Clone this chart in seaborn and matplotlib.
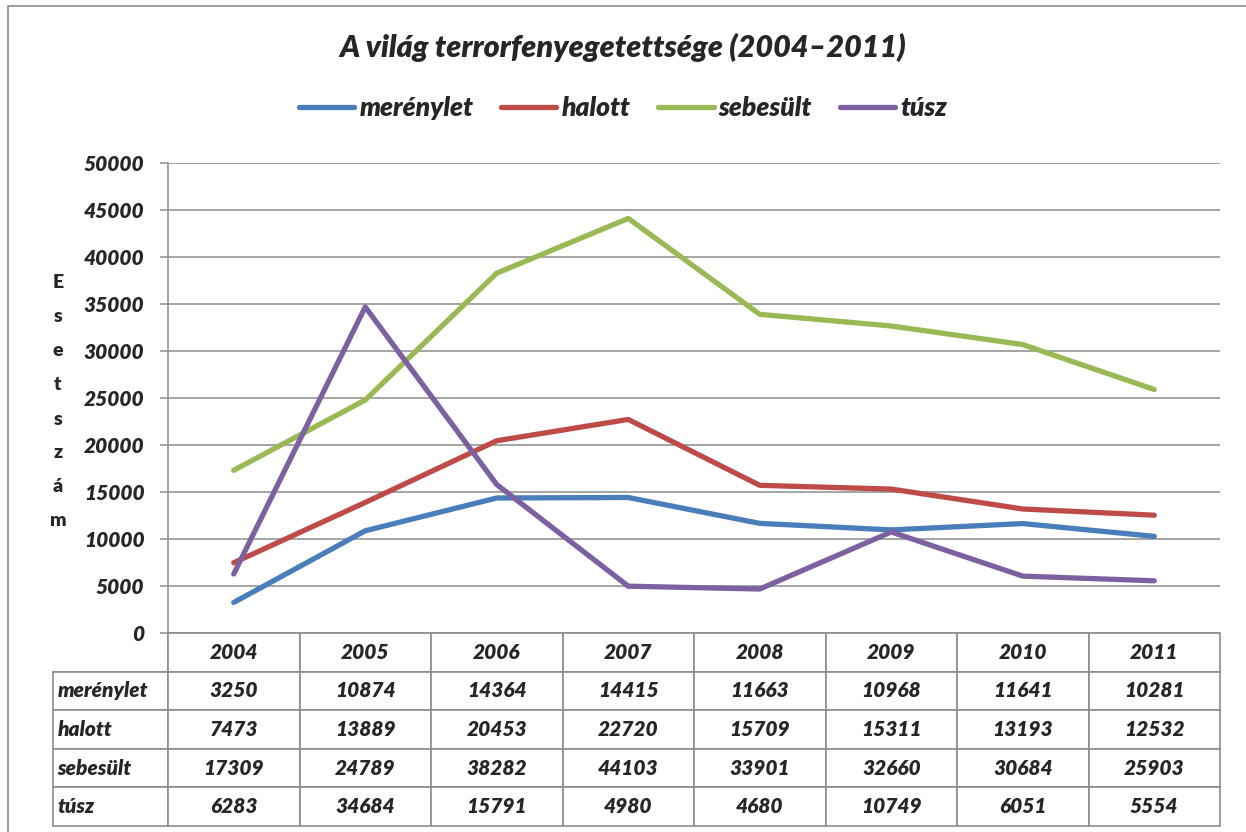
import numpy as np
import pandas as pd
import matplotlib
matplotlib.use("Agg")
import matplotlib.pyplot as plt
from matplotlib.patches import Rectangle
import seaborn as sns

years = ["2004", "2005", "2006", "2007", "2008", "2009", "2010", "2011"]
series_names = ["merénylet", "halott", "sebesült", "túsz"]
merenylet = [3250, 10874, 14364, 14415, 11663, 10968, 11641, 10281]
halott = [7473, 13889, 20453, 22720, 15709, 15311, 13193, 12532]
sebesult = [17309, 24789, 38282, 44103, 33901, 32660, 30684, 25903]
tusz = [6283, 34684, 15791, 4980, 4680, 10749, 6051, 5554]
colors = ["#4A7EBB", "#BE4B48", "#98B954", "#7D60A0"]
yticks = [0, 5000, 10000, 15000, 20000, 25000, 30000, 35000, 40000, 45000, 50000]
title = "A világ terrorfenyegetettsége (2004–2011)"
ylabel = "Esetszám"

sns.set_style("white")
plt.rcParams['font.family'] = ['Lato', 'DejaVu Sans']
WEIGHT = "heavy"

values = [merenylet, halott, sebesult, tusz]
df = pd.DataFrame({
    "ev": np.tile(np.arange(len(years)), len(series_names)),
    "sorozat": np.repeat(series_names, len(years)),
    "ertek": np.concatenate(values),
})

W, H = 1246, 832
fig = plt.figure(figsize=(W / 100, H / 100), dpi=100)
ax = fig.add_axes([168 / W, 1 - 633 / H, (1220 - 168) / W, (633 - 163) / H])

# cadre extérieur (seuls les bords gauche et haut sont visibles)
fig.patches.append(Rectangle((8 / W, -0.1), 1.2, 1 - 6 / H + 0.1, transform=fig.transFigure,
                             fill=False, edgecolor="#8c8c8c", linewidth=1.2))

sns.lineplot(data=df, x="ev", y="ertek", hue="sorozat", palette=colors,
             linewidth=3.8, ax=ax, legend=False, sort=False)
for line in ax.get_lines():
    line.set_solid_capstyle("round")
    line.set_solid_joinstyle("round")

ax.set_xlim(-0.5, len(years) - 0.5)
ax.set_ylim(0, 50000)
ax.set_yticks(yticks)
ax.set_yticklabels([str(t) for t in yticks], fontsize=15, fontweight=WEIGHT, fontstyle="italic")
ax.set_xticks([])
ax.set_xlabel("")
ax.set_ylabel("")
ax.yaxis.grid(True, color="#8c8c8c", linewidth=1.1)
ax.set_axisbelow(True)
ax.tick_params(axis="y", length=6, width=1.1, color="#8c8c8c", pad=11, left=True)
for side in ["top", "right", "bottom"]:
    ax.spines[side].set_visible(False)
ax.spines["left"].set_color("#8c8c8c")
ax.spines["left"].set_linewidth(1.1)

# tableau de données sous le graphique
cell_text = [[""] + years] + [[name] + [str(v) for v in vals] for name, vals in zip(series_names, values)]
axw = 1220 - 168
axh = 633 - 163
col_widths = [115] + [131.5] * len(years)
tab = ax.table(cellText=cell_text, colWidths=col_widths, cellLoc="center",
               bbox=[(53 - 168) / axw, -(826 - 633) / axh, (1220 - 53) / axw, (826 - 633) / axh])
tab.auto_set_font_size(False)
tab.set_fontsize(15)
for (r, c), cell in tab.get_celld().items():
    cell.set_edgecolor("#8c8c8c")
    cell.set_linewidth(1.2)
    cell.get_text().set_fontweight(WEIGHT)
    cell.get_text().set_fontstyle("italic")
    if c == 0:
        cell.get_text().set_ha("left")
        cell.PAD = 0.04
    if r == 0 and c == 0:
        cell.visible_edges = "BR"

# titre et légende
fig.text(0.5, 1 - 47 / H, title, ha="center", va="center", fontsize=22,
         fontweight=WEIGHT, fontstyle="italic")
handles = [plt.Line2D([], [], color=c, linewidth=3.8, solid_capstyle="round") for c in colors]
leg = fig.legend(handles, series_names, loc="center", bbox_to_anchor=(0.5, 1 - 108 / H), ncol=4,
                 frameon=False, handlelength=2.1, handletextpad=0.2, columnspacing=1.05,
                 prop={"size": 19, "weight": WEIGHT, "style": "italic"})

# titre de l'axe y, lettre par lettre
for i, ch in enumerate(ylabel):
    fig.text(58 / W, 1 - (283 + i * 34) / H, ch.lower() if i else ch, ha="center", va="center",
             fontsize=14, fontweight=WEIGHT)

fig.savefig("out.png", dpi=100)
